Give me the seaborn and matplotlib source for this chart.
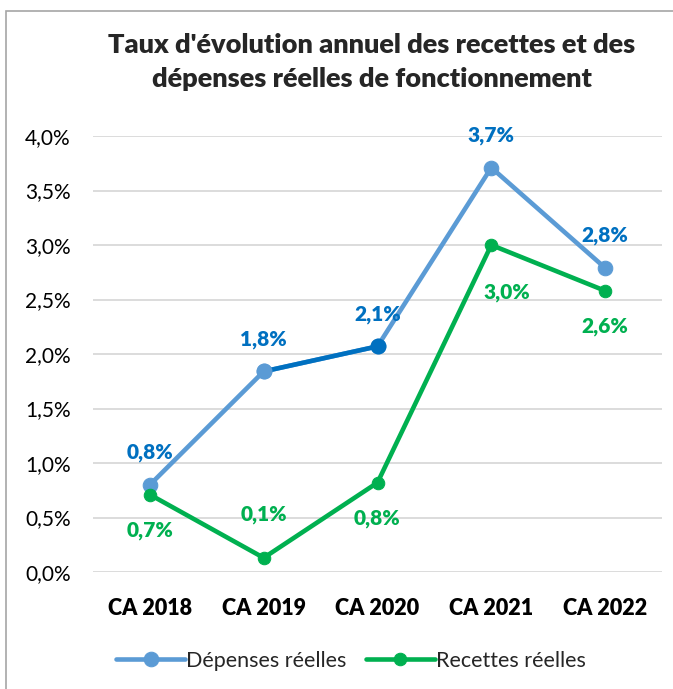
import matplotlib
matplotlib.use("Agg")
import matplotlib.pyplot as plt
from matplotlib.patches import Rectangle
from matplotlib.ticker import FuncFormatter
import seaborn as sns
import pandas as pd

categories = ["CA 2018", "CA 2019", "CA 2020", "CA 2021", "CA 2022"]
depenses = [0.80, 1.84, 2.07, 3.71, 2.79]
recettes = [0.71, 0.13, 0.82, 3.00, 2.58]
dep_labels = ["0,8%", "1,8%", "2,1%", "3,7%", "2,8%"]
rec_labels = ["0,7%", "0,1%", "0,8%", "3,0%", "2,6%"]
yticks = [0.0, 0.5, 1.0, 1.5, 2.0, 2.5, 3.0, 3.5, 4.0]

sns.set_theme(style="white")
plt.rcParams["font.family"] = ["Lato", "DejaVu Sans"]

BLUE = "#5B9BD5"
DARK_BLUE = "#0070C0"
GREEN = "#00B050"

df = pd.DataFrame({"cat": categories, "x": range(len(categories)),
                   "dep": depenses, "rec": recettes})

fig = plt.figure(figsize=(6.73, 6.89), dpi=100)
ax = fig.add_axes([93 / 673, 1 - 572 / 689, 569 / 673, (572 - 136) / 689])

sns.lineplot(data=df, x="x", y="dep", ax=ax, color=BLUE, lw=3.3, marker="o",
             markersize=10.5, markeredgecolor=BLUE, label="Dépenses réelles", zorder=3)
sns.lineplot(data=df, x="x", y="rec", ax=ax, color=GREEN, lw=3.3, marker="o",
             markersize=9, markeredgecolor=GREEN, label="Recettes réelles", zorder=3)
# highlighted segment 2019 -> 2020
seg = df.iloc[1:3]
ax.plot(seg["x"], seg["dep"], color=DARK_BLUE, lw=3.3, zorder=4, solid_capstyle="round")
ax.plot(seg["x"].iloc[1:], seg["dep"].iloc[1:], "o", color=DARK_BLUE, ms=10.5, zorder=5)
ax.plot(seg["x"].iloc[:1], seg["dep"].iloc[:1], "o", color=BLUE, ms=10.5, zorder=5)

dep_off = [(0, 23), (0, 23), (0, 23), (0, 23), (0, 23)]
rec_off = [(0, -26), (0, 31), (0, -26), (11, -34), (0, -26)]
for i in range(len(categories)):
    ax.annotate(dep_labels[i], (i, depenses[i]), xytext=dep_off[i],
                textcoords="offset points", ha="center", va="center",
                color=DARK_BLUE, fontsize=15, fontweight="heavy")
    ax.annotate(rec_labels[i], (i, recettes[i]), xytext=rec_off[i],
                textcoords="offset points", ha="center", va="center",
                color=GREEN, fontsize=15, fontweight="heavy")

ax.set_xlim(-0.5, 4.5)
ax.set_ylim(0, 4.0)
ax.set_yticks(yticks)
ax.yaxis.set_major_formatter(FuncFormatter(lambda v, p: f"{v:.1f}%".replace(".", ",")))
ax.set_xticks(range(len(categories)))
ax.set_xticklabels(categories, fontweight="heavy", fontsize=15.5)
ax.tick_params(axis="y", labelsize=15)
ax.tick_params(axis="both", colors="#000000", length=0)
ax.tick_params(axis="x", pad=19)
ax.tick_params(axis="y", pad=16)
ax.grid(axis="y", color="#D9D9D9", lw=1.3)
ax.set_axisbelow(True)
for s in ax.spines.values():
    s.set_visible(False)
ax.set_xlabel("")
ax.set_ylabel("")

fig.text(372 / 673, 1 - 62 / 689,
         "Taux d'évolution annuel des recettes et des\ndépenses réelles de fonctionnement",
         ha="center", va="center", fontsize=19.5, fontweight="heavy", linespacing=1.5)

leg = ax.legend(loc="center", bbox_to_anchor=(351 / 673, 1 - 661 / 689),
                bbox_transform=fig.transFigure, ncol=2, frameon=False,
                fontsize=15.5, handlelength=3.2, handletextpad=0.05, columnspacing=0.9)

fig.patches.append(Rectangle((6 / 673, -0.05), 1.2, (689 - 11) / 689 + 0.05,
                             transform=fig.transFigure, fill=False,
                             edgecolor="#A6A6A6", lw=1.2))

fig.savefig("out.png", dpi=100, facecolor="white")
